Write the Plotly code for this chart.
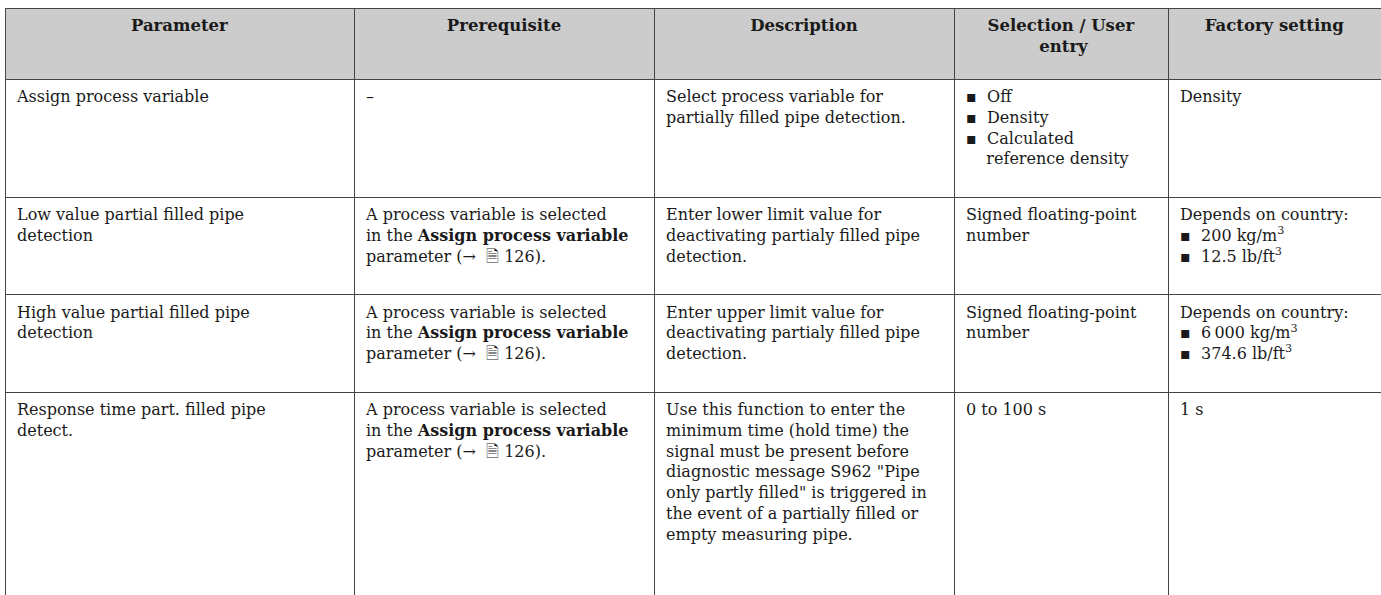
import plotly.graph_objects as go

NB = "\u00a0"
BUL = "\u25aa" + NB + NB
ICON = "\U0001F5CE"
INDENT = "\u2005"          # small left inset for every body line
PAD = "<br>" + NB          # extra empty line that gives each row its bottom space

headers = ["<b>Parameter</b>", "<b>Prerequisite</b>", "<b>Description</b>",
           "<b>Selection / User</b><br><b>" + NB * 9 + "entry</b>", "<b>Factory setting</b>"]

parameter = [
    "Assign process variable",
    "Low value partial filled pipe<br>detection",
    "High value partial filled pipe<br>detection",
    "Response time part. filled pipe<br>detect.",
]
prereq_text = ("A process variable is selected<br>in the <b>Assign process variable</b><br>"
               "parameter (→ " + NB + ICON + NB + "126).")
prerequisite = ["–", prereq_text, prereq_text, prereq_text]
description = [
    "Select process variable for<br>partially filled pipe detection.",
    "Enter lower limit value for<br>deactivating partialy filled pipe<br>detection.",
    "Enter upper limit value for<br>deactivating partialy filled pipe<br>detection.",
    "Use this function to enter the<br>minimum time (hold time) the<br>signal must be present before<br>"
    "diagnostic message S962 \"Pipe<br>only partly filled\" is triggered in<br>"
    "the event of a partially filled or<br>empty measuring pipe.",
]
selection = [
    BUL + "Off<br>" + BUL + "Density<br>" + BUL + "Calculated<br>" + NB * 4 + "reference density",
    "Signed floating-point<br>number",
    "Signed floating-point<br>number",
    "0 to 100 s",
]
factory = [
    "Density",
    "Depends on country:<br>" + BUL + "200 kg/m<sup>3</sup><br>" + BUL + "12.5 lb/ft<sup>3</sup>",
    "Depends on country:<br>" + BUL + "6\u2009000 kg/m<sup>3</sup><br>" + BUL + "374.6 lb/ft<sup>3</sup>",
    "1 s",
]
# extra blank lines per row (last row runs past the bottom edge)
row_padding = [1, 1, 1, 3]

column_widths = [349, 300, 300, 214, 213]

FONT = "DejaVu Serif"
FIG_W, FIG_H = 1381, 595


def cell_text(txt, n_pad):
    lines = [INDENT + ln for ln in txt.split("<br>")]
    return "<br>".join(lines) + PAD * n_pad


columns = [parameter, prerequisite, description, selection, factory]
columns = [[cell_text(txt, n) for txt, n in zip(col, row_padding)] for col in columns]

fig = go.Figure(go.Table(
    columnwidth=column_widths,
    header=dict(
        values=headers,
        fill_color="#cccccc",
        line=dict(color="#444444", width=1),
        align="center",
        font=dict(family=FONT, size=16.5, color="#1a1a1a"),
        height=71,
    ),
    cells=dict(
        values=columns,
        fill_color="white",
        line=dict(color="#444444", width=1),
        align="left",
        font=dict(family=FONT, size=16, color="#1a1a1a"),
        height=20,
    ),
    domain=dict(x=[5 / FIG_W, 1], y=[0, 1 - 8 / FIG_H]),
))
fig.update_layout(
    width=FIG_W, height=FIG_H,
    margin=dict(l=0, r=0, t=0, b=0),
    paper_bgcolor="white",
)
fig.write_html(
    "out.html",
    config={"displayModeBar": False},
    post_script="document.body.style.margin='0';document.body.style.overflow='hidden';",
)
